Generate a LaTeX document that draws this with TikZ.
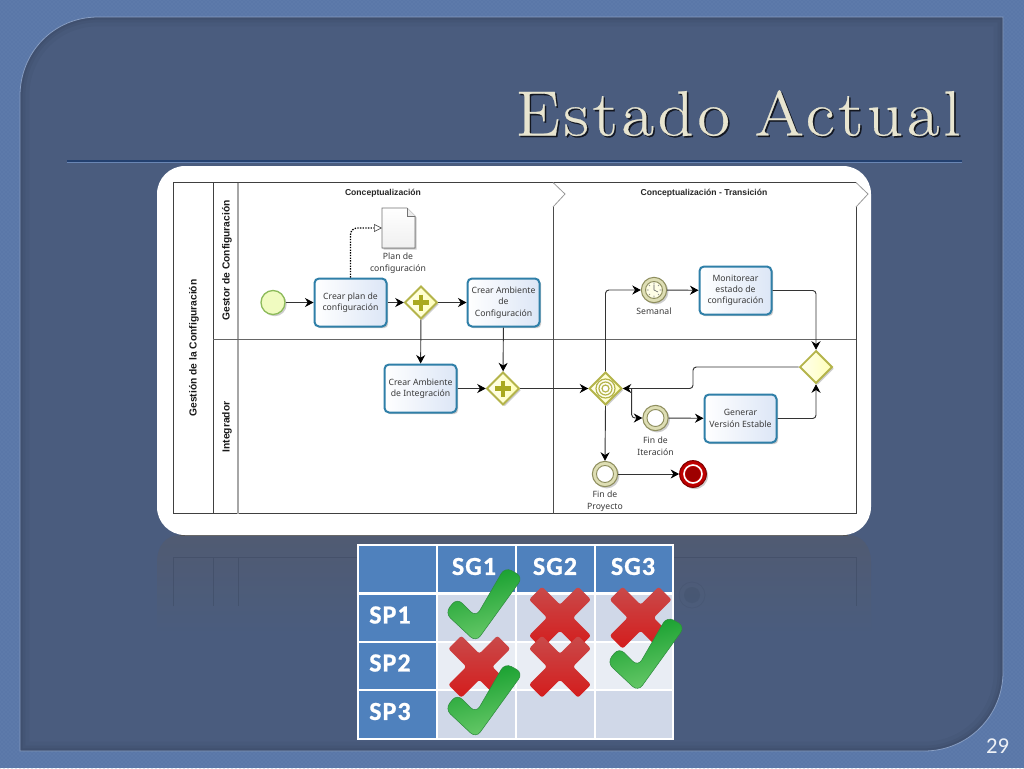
\documentclass[tikz,border=0pt]{standalone}
\usepackage{fontspec}
\usetikzlibrary{arrows.meta,shapes.geometric,shadows,patterns,fadings}
\setmainfont{Latin Modern Roman}
\newfontfamily\bpmnf{Noto Sans}
\newfontfamily\bpmnb{Liberation Sans}
\newfontfamily\tablef[LetterSpace=4,FakeBold=0.8]{Carlito}
\newfontfamily\pagef{Carlito}
\newfontfamily\titlef[LetterSpace=5.5,FakeBold=0.4]{Latin Modern Roman}
\definecolor{bgblue}{HTML}{5A77A8}
\definecolor{bgdot}{HTML}{6A86B4}
\definecolor{panelblue}{HTML}{4A5C7E}
\definecolor{rulecol}{HTML}{23406F}
\definecolor{cream}{HTML}{E8E5D0}
\definecolor{taskline}{HTML}{2F7FA8}
\definecolor{taskfill}{HTML}{DCE6F6}
\definecolor{gateline}{HTML}{B4B44A}
\definecolor{plusfill}{HTML}{A9A920}
\definecolor{evline}{HTML}{8E8E5E}
\definecolor{evfill}{HTML}{DEDEB4}
\definecolor{tblue}{HTML}{4F81BD}
\definecolor{rowa}{HTML}{D0D8E8}
\definecolor{rowb}{HTML}{E9EDF4}
\definecolor{txt}{HTML}{3A3A3A}
\definecolor{chkdark}{HTML}{109C2A}
\definecolor{chklight}{HTML}{6CCB6C}
\definecolor{chkline}{HTML}{2E8B3E}
\definecolor{crstop}{HTML}{C94A4A}
\definecolor{crsmid}{HTML}{BE0A0A}
\definecolor{crsbot}{HTML}{D41C1C}
\definecolor{startline}{HTML}{8DBB5A}
\definecolor{startfill}{HTML}{F0FBC0}
\definecolor{reflect}{HTML}{505B72}
\tikzset{
  softshadow/.style={drop shadow={shadow xshift=1.3pt,shadow yshift=-1.3pt,opacity=.28,fill=black!70}},
  taskbox/.style={draw=taskline,line width=1.5pt,rounded corners=3.4pt,left color=white,right color=taskfill,
     minimum width=54pt,minimum height=36pt,inner sep=0pt,
     align=center,font=\bpmnf\fontsize{6.5}{8.5}\selectfont,text=txt,softshadow},
  gatebox/.style={diamond,draw=gateline,line width=1.4pt,left color=yellow!6,right color=yellow!28,minimum width=24.5pt,
     minimum height=24.5pt,aspect=1,inner sep=0pt,softshadow},
  plusmark/.style={plusfill,line width=3.4pt},
  startev/.style={circle,draw=startline,line width=1pt,fill=startfill,minimum size=18pt,inner sep=0pt,softshadow},
  catchev/.style={circle,draw=evline,line width=.8pt,fill=evfill,minimum size=19pt,inner sep=0pt,softshadow},
  ringin/.style={draw=evline,line width=.7pt,fill=white},
  endev/.style={circle,draw=red!50!black,line width=.8pt,fill=red!75!black,minimum size=20pt,inner sep=0pt,softshadow},
  lbl/.style={align=center,font=\bpmnf\fontsize{6.5}{8.7}\selectfont,text=txt,inner sep=0pt},
  phasetitle/.style={font=\bpmnb\bfseries\fontsize{6.45}{8}\selectfont,text=black!85,inner sep=0pt},
  pooltitle/.style={rotate=90,font=\bpmnb\bfseries\fontsize{7.7}{9}\selectfont,text=black!90,inner sep=0pt},
  frameline/.style={draw=black!75,line width=.55pt},
  flow/.style={draw=black!80,line width=.7pt,rounded corners=2.5pt,-{Stealth[length=6.4pt,width=6.8pt,black]}},
  assoc/.style={draw=black,line width=1pt,dash pattern=on 1pt off 1pt,rounded corners=5pt,-{Triangle[open,length=6pt,width=6pt,black!70,line width=.5pt,fill=white]}},
  cell/.style={draw=white,line width=1pt},
  tbltext/.style={font=\tablef\bfseries\fontsize{19.5}{22}\selectfont,text=white,inner sep=0pt},
}
\newcommand{\chk}[2]{%
  \shade[left color=chkdark,right color=chklight,shading angle=15,draw=chkline,line width=.4pt,
     rounded corners=5.5pt,shift={(#1,#2)}]
     (-1,4) -- (-32,-25) -- (-20,-40) -- (-1,-21) -- (28,-71) -- (46,-61) -- cycle;}
\newcommand{\crs}[2]{%
  \shade[top color=crstop,middle color=crsmid,bottom color=crsbot,rounded corners=1.8pt,shift={(#1,#2)}]
     (-31,-18) -- (-18,-31) -- (0,-13) -- (18,-31) -- (31,-18) -- (13,0) -- (31,18) -- (18,31) -- (0,13) -- (-18,31) -- (-31,18) -- (-13,0) -- cycle;}
\begin{document}
\begin{tikzpicture}[x=0.75pt,y=-0.75pt]
\useasboundingbox (0,0) rectangle (1024,768);
% background
\fill[bgblue] (0,0) rectangle (1024,768);
\fill[pattern=crosshatch dots,pattern color=bgdot] (0,0) rectangle (1024,768);
% slide panel
\def\panelpath{(98,17) -- (1003,17) -- (1003,672) .. controls (1003,716) and (968,751) .. (924,751) -- (20,751) -- (20,96) .. controls (20,52) and (54,17) .. (98,17) -- cycle}
\fill[panelblue] \panelpath;
\begin{scope}
\clip \panelpath;
\draw[black,opacity=.03,line width=14pt] \panelpath;
\draw[black,opacity=.04,line width=8pt] \panelpath;
\draw[black,opacity=.05,line width=4pt] \panelpath;
\end{scope}
\draw[bgdot!80!white,line width=.6pt] \panelpath;
% title
\node[anchor=base east,inner sep=0pt,xscale=1.1,transform shape,text=black!75!panelblue,font=\titlef\fontsize{48}{60}\selectfont] (titleshadow) at (962.5,137) {Estado Actual};
\node[anchor=base east,inner sep=0pt,xscale=1.1,transform shape,text=cream,font=\titlef\fontsize{48}{60}\selectfont] (title) at (961,135.5) {Estado Actual};
\draw[rulecol,line width=1pt] (67,161) -- (962,161);
\draw[bgdot,line width=.4pt] (67,162.2) -- (962,162.2);
% reflection
\shade[top color=reflect,bottom color=panelblue]
  (180,535) -- (848,535) .. controls (862,535) and (871,546) .. (871,562) -- (871,635) -- (157,635) -- (157,562) .. controls (157,546) and (166,535) .. (180,535) -- cycle;
\draw[black!35!panelblue,line width=.5pt,opacity=.3] (173,606) -- (173,557) -- (856,557) -- (856,606)
   (213,557) -- (213,606) (238,557) -- (238,606);
\fill[black!35!panelblue,opacity=.15] (692,595) circle (8);
\draw[black!35!panelblue,opacity=.12,line width=.6pt] (692,595) circle (13);
\draw[black!35!gray,line width=.8pt] (180,535.5) -- (848,535.5);
% white panel
\fill[white,rounded corners=21pt] (157,166) rectangle (871,535);
% pool frame
\draw[frameline] (856,182.5) -- (173,182.5) -- (173,513.5) -- (856,513.5) -- (856,207);
\draw[frameline] (213,182.5) -- (213,513.5);
\draw[black!35,line width=1pt] (238,182.5) -- (238,513.5);
\draw[black!60,line width=.5pt] (213,339.5) -- (856,339.5);
\draw[black!40,line width=.6pt] (553,182.5) -- (565,194) -- (553,207);
\draw[black!70,line width=.55pt] (553,207) -- (553,513.5);
\draw[black!40,line width=.6pt] (856,182.5) -- (868,194) -- (856,207);
% titles
\node[phasetitle] (ph1) at (383,193.5) {Conceptualización};
\node[phasetitle] (ph2) at (704,193.5) {Conceptualización - Transición};
\node[pooltitle] (pool) at (194,348) {Gestión de la Configuración};
\node[pooltitle] (lane1) at (227,260.5) {Gestor de Configuración};
\node[pooltitle] (lane2) at (227,427) {Integrador};
% document
\coordinate (docw) at (382,228);
\filldraw[draw=black!55,line width=.5pt,top color=white,bottom color=black!6,softshadow]
  (382,208) -- (407,208) -- (415,216) -- (415,248) -- (382,248) -- cycle;
\draw[black!55,line width=.5pt,fill=black!8] (407,208) -- (407,216) -- (415,216);
\node[lbl] (doclbl) at (398,263.5) {Plan de\\configuración};
% nodes
\node[startev] (start) at (273,302.5) {};
\node[taskbox] (t1) at (350.5,302.5) {Crear plan de\\configuración};
\node[gatebox] (g1) at (421,302.5) {};
\draw[plusmark,shift={(g1)}] (-8,0) -- (8,0) (0,-8) -- (0,8);
\node[taskbox] (t2) at (503.5,302.5) {Crear Ambiente\\de\\Configuración};
\node[taskbox] (t3) at (420.5,388.5) {Crear Ambiente\\de Integración};
\node[gatebox] (g2) at (503,388.5) {};
\draw[plusmark,shift={(g2)}] (-8,0) -- (8,0) (0,-8) -- (0,8);
\node[gatebox] (g3) at (605.5,388.5) {};
\draw[gateline,line width=.9pt,fill=yellow!5,shift={(g3)}] (0,0) circle (9.5);
\draw[gateline,line width=.9pt,shift={(g3)}] (0,0) circle (6.5);
\draw[gateline,line width=.9pt,fill=white,shift={(g3)}] (0,0) circle (3.5);
\node[catchev] (ev1) at (654,290) {};
\filldraw[ringin,shift={(ev1)},fill=yellow!10] (0,0) circle (8.5);
\draw[black!50,line width=.4pt,shift={(ev1)}] (0,-7.5) -- (0,-5.5) (0,7.5) -- (0,5.5) (-7.5,0) -- (-5.5,0) (7.5,0) -- (5.5,0) (5.3,-5.3) -- (3.9,-3.9) (-5.3,-5.3) -- (-3.9,-3.9) (5.3,5.3) -- (3.9,3.9) (-5.3,5.3) -- (-3.9,3.9);
\draw[black!65,line width=.5pt,shift={(ev1)}] (0,-5) -- (0,0) -- (4,2);
\node[lbl] (ev1l) at (654,311.5) {Semanal};
\node[taskbox] (t4) at (735.5,290.5) {Monitorear\\estado de\\configuración};
\node[gatebox] (g4) at (816,367) {};
\node[catchev] (ev2) at (655.5,418) {};
\filldraw[ringin,shift={(ev2)}] (0,0) circle (8.5);
\node[lbl] (ev2l) at (655.5,446) {Fin de\\Iteración};
\node[taskbox] (t5) at (740.5,418.5) {Generar\\Versión Estable};
\node[catchev] (ev3) at (605,474) {};
\filldraw[ringin,shift={(ev3)}] (0,0) circle (8.5);
\node[lbl] (ev3l) at (605,501) {Fin de\\Proyecto};
\node[endev] (endn) at (693,474) {};
\draw[white,line width=1.2pt,shift={(endn)}] (0,0) circle (9);
\fill[red!62!black,shift={(endn)}] (0,0) circle (7.2);
% connectors
\draw[flow] (start) -- (t1);
\draw[flow] (t1) -- (g1);
\draw[flow] (g1) -- (t2);
\draw[flow] (g1) -- (t3);
\draw[flow] (t2) -- (g2);
\draw[flow] (t3) -- (g2);
\draw[flow] (g2) -- (g3);
\draw[assoc] (t1.north) |- (docw);
\draw[flow] (g3.north) |- (ev1.west);
\draw[flow] (ev1) -- (t4);
\draw[flow] (t4.east) -| (g4.north);
\coordinate (bendtop) at (693,367);
\coordinate (bendlow) at (693,388.5);
\draw[flow] (g4.west) -- (bendtop) -- (bendlow) -- (g3.east);
\coordinate (branch) at (631.7,388.5);
\coordinate (branchlow) at (631.7,418);
\draw[flow] (branch) -- (branchlow) -- (ev2.west);
\draw[flow] (ev2) -- (t5);
\draw[flow] (t5.east) -| (g4.south);
\draw[flow] (g3.south) -- (ev3.north);
\draw[flow] (ev3) -- (endn);
% table
\fill[rowa] (437,594) rectangle (673,739);
\fill[rowb] (437,642) rectangle (673,690);
\fill[tblue] (358,545) rectangle (673,592);
\fill[tblue] (358,595) rectangle (437,739);
\draw[cell] (358,545) rectangle (673,739);
\draw[cell] (437,545) -- (437,739) (516,545) -- (516,739) (595,545) -- (595,739);
\draw[white,line width=2.4pt] (358,593.5) -- (673,593.5);
\draw[cell] (358,642) -- (673,642) (358,690) -- (673,690);
\node[tbltext] (sg1) at (474,566.5) {SG1};
\node[tbltext] (sg2) at (555,566.5) {SG2};
\node[tbltext] (sg3) at (633,566.5) {SG3};
\node[tbltext,anchor=west] (sp1) at (369,615) {SP1};
\node[tbltext,anchor=west] (sp2) at (369,663) {SP2};
\node[tbltext,anchor=west] (sp3) at (369,711.5) {SP3};
\crs{560}{617.7}
\crs{640.7}{617.7}
\crs{479.3}{666.7}
\crs{560}{666.7}
\chk{477}{638}
\chk{477}{734}
\chk{639}{687.5}
% page number
\node[inner sep=0pt,text=white!90!bgblue,font=\pagef\fontsize{17}{20}\selectfont] (pg) at (997.5,746) {29};
\end{tikzpicture}
\end{document}
